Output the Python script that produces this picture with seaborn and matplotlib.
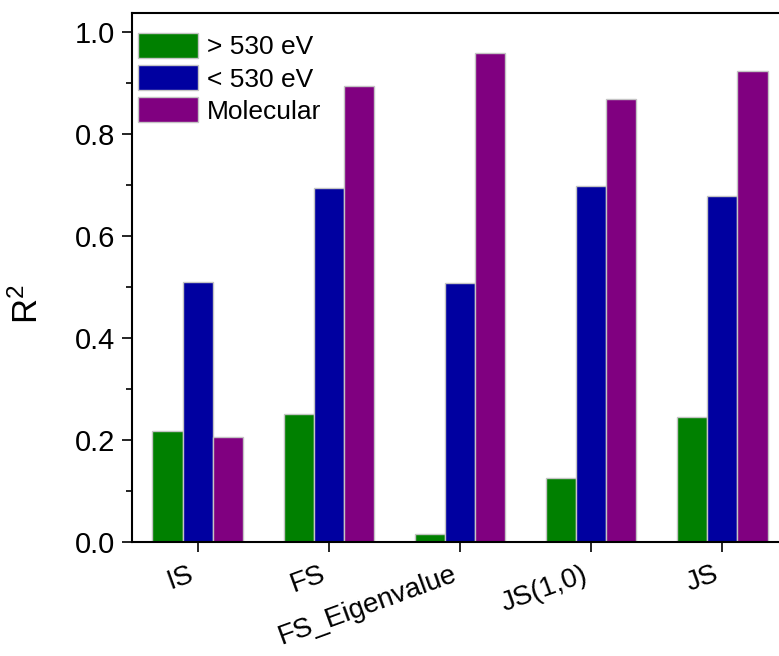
import numpy as np
import pandas as pd
import matplotlib
matplotlib.use("Agg")
import matplotlib.pyplot as plt
import seaborn as sns
from matplotlib.ticker import MultipleLocator

categories = ["IS", "FS", "FS_Eigenvalue", "JS(1,0)", "JS"]
series_names = ["> 530 eV", "< 530 eV", "Molecular"]
above_530 = [0.218, 0.250, 0.016, 0.126, 0.246]
below_530 = [0.510, 0.693, 0.508, 0.697, 0.679]
molecular = [0.206, 0.894, 0.958, 0.868, 0.924]
colors = ["#008000", "#0000A0", "#800080"]

rows = []
for name, vals in zip(series_names, [above_530, below_530, molecular]):
    for c, v in zip(categories, vals):
        rows.append({"category": c, "series": name, "R2": v})
df = pd.DataFrame(rows)

sns.set_theme(style="ticks")
plt.rcParams["font.family"] = ["Liberation Sans", "DejaVu Sans"]
plt.rcParams["mathtext.fontset"] = "custom"
plt.rcParams["mathtext.rm"] = "Liberation Sans"
plt.rcParams["mathtext.it"] = "Liberation Sans"
for k in ["text.color", "axes.labelcolor", "xtick.color", "ytick.color",
          "xtick.labelcolor", "ytick.labelcolor"]:
    plt.rcParams[k] = "black"

W, H = 779, 656
fig = plt.figure(figsize=(W / 100, H / 100), dpi=100)
ax = fig.add_axes([132 / W, (H - 542) / H, 656 / W, (542 - 13) / H])

sns.barplot(data=df, x="category", y="R2", hue="series", order=categories,
            hue_order=series_names, palette=colors, width=0.69, gap=0,
            edgecolor="#c4c4c4", linewidth=1.0, saturation=1, ax=ax,
            errorbar=None)

ax.set_xlim(-0.5, 4.5)
ax.set_ylim(0, 1.037)
ax.yaxis.set_major_locator(MultipleLocator(0.2))
ax.yaxis.set_minor_locator(MultipleLocator(0.1))
ax.set_yticklabels([f"{t:.1f}" for t in ax.get_yticks()])
ax.set_xlabel("")
ax.set_ylabel("R$^2$", fontsize=25)
ax.yaxis.set_label_coords(-0.133, 0.45)

for s in ["top", "left", "bottom", "right"]:
    ax.spines[s].set_linewidth(1.5)
    ax.spines[s].set_color("black")

ax.tick_params(axis="y", which="major", direction="out", length=7, width=1.2,
               labelsize=21, pad=5)
ax.tick_params(axis="y", which="minor", direction="out", length=4, width=1.2)
ax.tick_params(axis="x", which="major", direction="out", length=7, width=1.2,
               labelsize=20, pad=7)
plt.setp(ax.get_xticklabels(), rotation=20, ha="right")

handles, labels = ax.get_legend_handles_labels()
ax.legend(handles, labels, loc="upper left",
          bbox_to_anchor=(6 / 656, (542 - 33) / (542 - 13)),
          frameon=False, fontsize=19, handlelength=2.27, handleheight=1.07,
          labelspacing=0.22, handletextpad=0.34, borderpad=0, borderaxespad=0)

fig.savefig("out.png", dpi=100)
